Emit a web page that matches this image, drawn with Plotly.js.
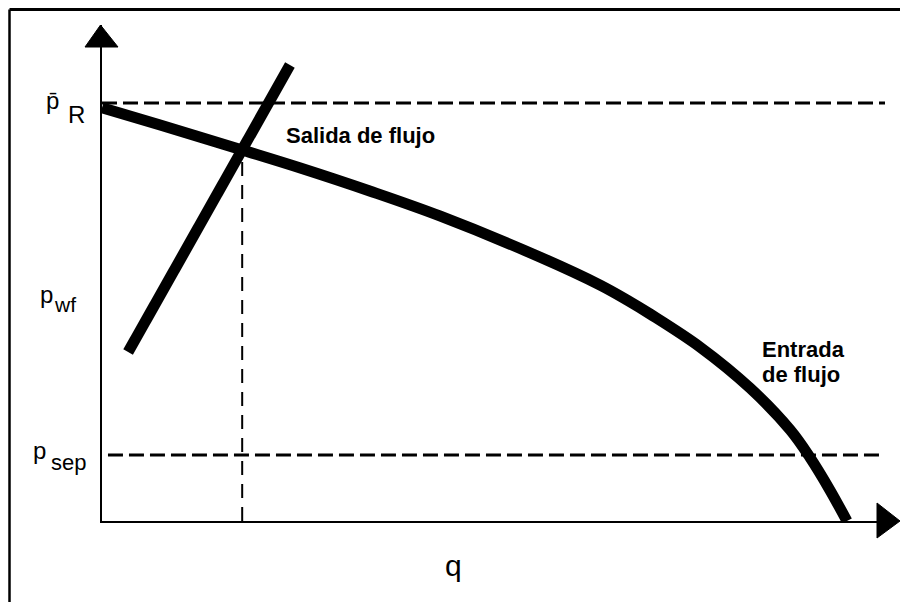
<!DOCTYPE html>
<html>
<head>
<meta charset="utf-8">
<script src="https://cdn.plot.ly/plotly-3.0.1.min.js"></script>
<style>
  html, body { margin: 0; padding: 0; background: #ffffff; }
  #chart { width: 900px; height: 602px; }
</style>
</head>
<body>
<div id="chart"></div>
<script>
// ---- Data (arbitrary units) ----
// Inflow (IPR) curve: rate q vs flowing pressure p
const qInflow = [0, 78, 188, 266, 359, 453, 587, 668, 704, 735, 802, 869, 923, 949, 976, 999];
const pInflow = [2500, 2395, 2244, 2135, 1996, 1845, 1597, 1427, 1337, 1252, 1052, 804, 550, 387, 188, 0];
// Outflow curve (straight line)
const qOutflow = [35, 252];
const pOutflow = [1022, 2758];
// Reference pressure levels
const pReservoir = 2528;
const pSeparator = 399;
// Operating point
const qOperating = 188;
const pOperating = 2244;
// Axis ranges
const qRange = [0, 1050];
const pRange = [0, 3000];
// Labels
const labelInflow = ["Entrada", "de flujo"];
const labelOutflow = "Salida de flujo";
const axisLabelX = "q";

// ---- Layout geometry helpers (pixel -> paper) ----
const L = 102, R = 15, T = 25, B = 81;
const W = 900 - L - R, H = 602 - T - B;
const PX = x => (x - L) / W;
const PY = y => (602 - B - y) / H;

const FONT = "Liberation Sans, Arial, Helvetica, sans-serif";

const traces = [
  { x: [qRange[0], qRange[1]], y: [pReservoir, pReservoir], mode: "lines",
    line: { color: "#000", width: 3, dash: "15px,6px" }, hoverinfo: "skip" },
  { x: [8, 1047], y: [pSeparator, pSeparator], mode: "lines",
    line: { color: "#000", width: 3, dash: "15px,6px" }, hoverinfo: "skip" },
  { x: [qOperating, qOperating], y: [0, pOperating], mode: "lines",
    line: { color: "#000", width: 2, dash: "14px,9px" }, hoverinfo: "skip" },
  { x: qInflow, y: pInflow, mode: "lines",
    line: { color: "#000", width: 11, shape: "spline", smoothing: 1 }, hoverinfo: "skip" },
  { x: qOutflow, y: pOutflow, mode: "lines",
    line: { color: "#000", width: 11 }, hoverinfo: "skip" }
];

function ann(text, x, y, size, bold) {
  return {
    text: bold ? "<b>" + text + "</b>" : text,
    xref: "paper", yref: "paper", x: PX(x), y: PY(y),
    xanchor: "left", yanchor: "middle", showarrow: false,
    font: { family: FONT, size: size, color: "#000" }
  };
}

const annotations = [
  ann("p\u0304", 44, 100.6, 24),
  ann("R", 66, 114.7, 24),
  ann("p", 38, 294.7, 24),
  ann("wf", 52, 304.7, 21),
  ann("p", 31, 450.5, 24),
  ann("sep", 49, 462.4, 22),
  ann(axisLabelX, 443, 565.6, 30),
  ann(labelOutflow, 284, 135.4, 22, true),
  ann(labelInflow[0], 760, 349.4, 22, true),
  ann(labelInflow[1], 760, 374.9, 22, true)
];

const shapes = [
  // outer frame (left + top)
  { type: "line", xref: "paper", yref: "paper", x0: PX(9.5), y0: PY(9.5), x1: PX(900), y1: PY(9.5),
    line: { color: "#000", width: 3 } },
  { type: "line", xref: "paper", yref: "paper", x0: PX(9.5), y0: PY(9.5), x1: PX(9.5), y1: PY(602),
    line: { color: "#000", width: 2.5 } },
  // y-axis arrowhead
  { type: "path", xref: "paper", yref: "paper",
    path: `M ${PX(100.5)} ${PY(25)} L ${PX(85)} ${PY(47)} L ${PX(118)} ${PY(47)} Z`,
    fillcolor: "#000", line: { color: "#000", width: 1 } },
  // x-axis arrowhead
  { type: "path", xref: "paper", yref: "paper",
    path: `M ${PX(900)} ${PY(521)} L ${PX(877)} ${PY(503)} L ${PX(877)} ${PY(538)} Z`,
    fillcolor: "#000", line: { color: "#000", width: 1 } }
];

const layout = {
  width: 900, height: 602,
  margin: { l: L, r: R, t: T, b: B, pad: 0 },
  paper_bgcolor: "#fff", plot_bgcolor: "#fff",
  showlegend: false,
  xaxis: { range: qRange, showgrid: false, zeroline: false, showticklabels: false,
           ticks: "", showline: true, linecolor: "#000", linewidth: 2, fixedrange: true },
  yaxis: { range: pRange, showgrid: false, zeroline: false, showticklabels: false,
           ticks: "", showline: true, linecolor: "#000", linewidth: 2, fixedrange: true },
  annotations: annotations,
  shapes: shapes
};

Plotly.newPlot("chart", traces, layout, { displayModeBar: false, staticPlot: true });
</script>
</body>
</html>
